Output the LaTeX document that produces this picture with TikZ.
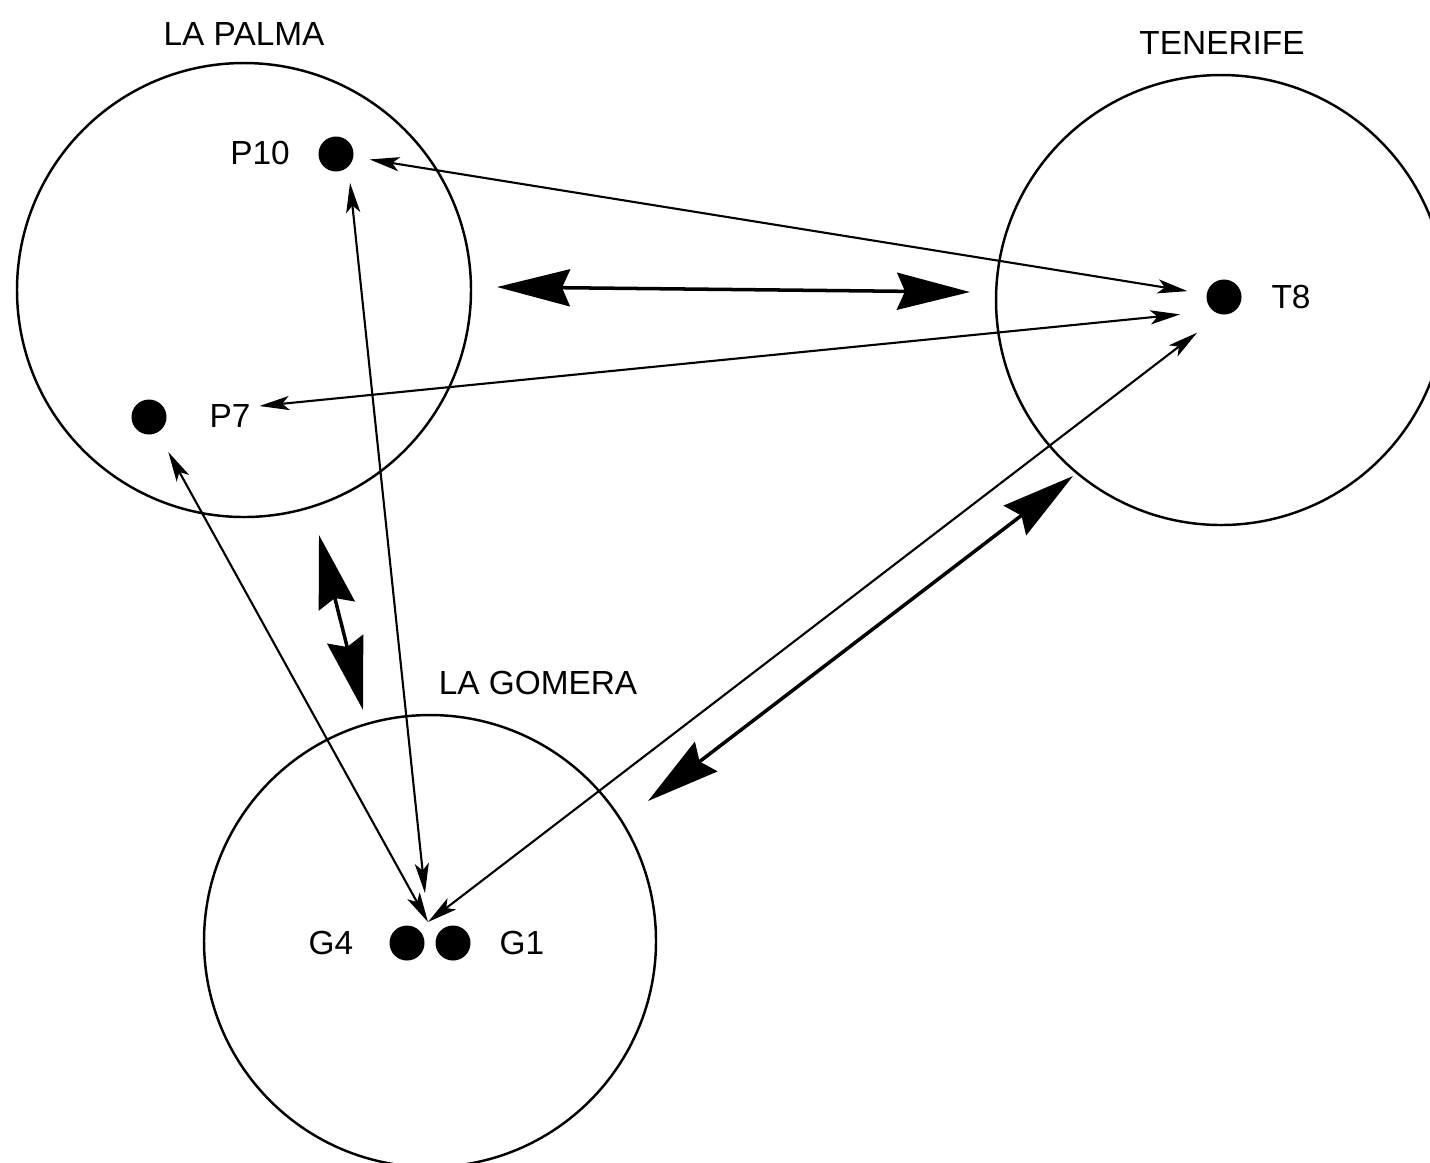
\documentclass[tikz,border=0pt]{standalone}
\usepackage{fontspec}
\setmainfont{Liberation Sans}
\usetikzlibrary{arrows.meta}
\begin{document}
\begin{tikzpicture}[font=\fontsize{9.5}{11}\selectfont,
  island/.style={draw,circle,line width=0.7pt,inner sep=0pt},
  dot/.style={circle,fill=black,inner sep=0pt,minimum size=0.35cm},
  link/.style={line width=0.6pt,{Stealth[length=8.5pt,width=4pt,inset=2pt]}-{Stealth[length=8.5pt,width=4pt,inset=2pt]}},
  flow/.style={line width=1pt,{Stealth[length=0.73cm,width=0.37cm,inset=0.08cm]}-{Stealth[length=0.73cm,width=0.37cm,inset=0.08cm]}}]
\useasboundingbox(0,0)rectangle(14.30,-11.62);
% islands
\node[island,minimum size=4.54cm](LaPalma)at(2.44,-2.90){};
\node[island,minimum size=4.50cm](Tenerife)at(12.21,-3.00){};
\node[island,minimum size=4.52cm](Gomera)at(4.30,-9.41){};
\node(lLaPalma)at(2.44,-0.34){LA PALMA};
\node(lTenerife)at(12.22,-0.43){TENERIFE};
\node(lGomera)at(5.38,-6.83){LA GOMERA};
% stations
\node[dot](P10)at(3.36,-1.54){};
\node[dot](P7)at(1.49,-4.17){};
\node[dot](T8)at(12.24,-2.97){};
\node[dot](G4)at(4.07,-9.43){};
\node[dot](G1)at(4.53,-9.43){};
\node(lP10)at(2.60,-1.53){P10};
\node(lP7)at(2.30,-4.16){P7};
\node(lT8)at(12.91,-2.97){T8};
\node(lG4)at(3.31,-9.43){G4};
\node(lG1)at(5.22,-9.43){G1};
\coordinate(G)at(4.28,-9.22);
% single links
\draw[link,shorten <=0.34cm,shorten >=0.37cm](P10.center)--(T8.center);
\draw[link,shorten <=0.44cm,shorten >=1.11cm]([yshift=-1.3mm]T8.center)--(P7.center);
\draw[link,shorten <=0.29cm,shorten >=0.29cm]([xshift=1.1mm]P10.center)--(G);
\draw[link,shorten <=0.40cm](P7.center)--(G);
\draw[link,shorten <=0.34cm]([yshift=-1.5mm]T8.center)--(G);
% island exchanges
\coordinate(hA)at(4.97,-2.87);
\coordinate(hB)at(9.70,-2.92);
\coordinate(vA)at(3.19,-5.35);
\coordinate(vB)at(3.63,-7.10);
\coordinate(dA)at(6.48,-8.01);
\coordinate(dB)at(10.73,-4.76);
\draw[flow](hA)--(hB);
\draw[flow](vA)--(vB);
\draw[flow](dA)--(dB);
\end{tikzpicture}
\end{document}
